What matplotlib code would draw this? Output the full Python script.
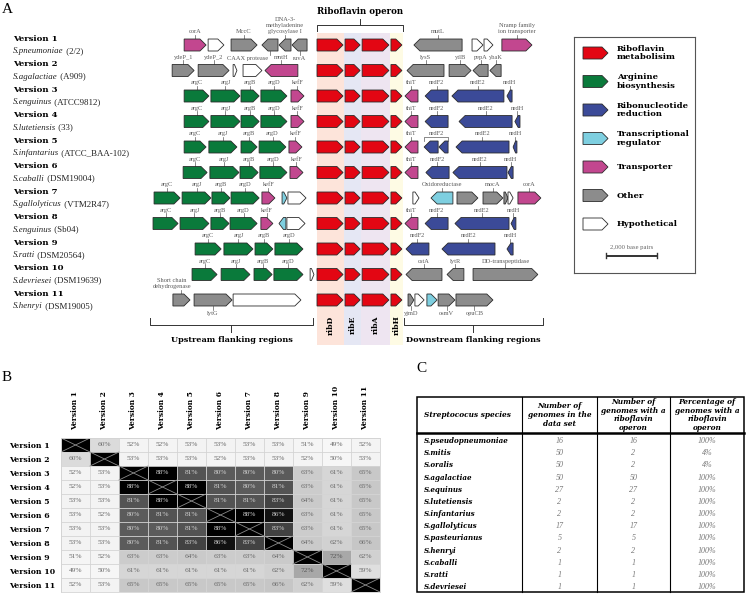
import matplotlib
matplotlib.use("Agg")
import matplotlib.pyplot as plt
import matplotlib.transforms as mtransforms
from matplotlib.patches import Polygon, Rectangle
import numpy as np

SERIF = "Liberation Serif"
BOLD = "DejaVu Serif"
LABEL_GREY = "#5a5a5a"

COLORS = {"rib": "#e30613", "arg": "#0a7a3b", "nrd": "#3b4a98", "reg": "#7ecfe0",
          "tra": "#c2478f", "oth": "#8c8c8c", "hyp": "#ffffff"}

# ---------------- panel A data (positions in kb, 0 = start of ribD) ----------------
VERSIONS = [f"Version {i}" for i in range(1, 12)]
SPECIES = ["S.pneumoniae", "S.agalactiae", "S.enguinus", "S.lutetiensis", "S.infantarius",
           "S.caballi", "S.gallolyticus", "S.enguinus", "S.ratti", "S.devriesei", "S.henryi"]
STRAINS = ["(2/2)", "(A909)", "(ATCC9812)", "(33)", "(ATCC_BAA-102)", "(DSM19004)",
           "(VTM2R47)", "(Sb04)", "(DSM20564)", "(DSM19639)", "(DSM19005)"]

OPERON = [(0.00, 1.02, "ribD"), (1.10, 1.69, "ribE"), (1.77, 2.82, "ribA"), (2.90, 3.33, "ribH")]
BANDS = [(0.00, 1.06, "#fde4da"), (1.06, 1.73, "#e5e7f4"), (1.73, 2.86, "#eee5f1"), (2.86, 3.37, "#fefbe4")]

# (start, end, strand, category, label, label side)
FLANKS = [
    [(-5.21, -4.35, 1, "tra", "corA", "a"), (-4.27, -3.65, 1, "hyp", "", ""),
     (-3.37, -2.35, 1, "oth", "MccC", "a"), (-2.16, -1.53, -1, "oth", "CAAX protease", "b"),
     (-1.49, -1.02, -1, "oth", "DNA-3-\nmethyladenine\nglycosylase I", "a"),
     (-0.98, -0.39, -1, "oth", "ruvA", "b"),
     (3.80, 5.69, -1, "oth", "mutL", "a"), (6.08, 6.51, 1, "hyp", "", ""),
     (6.55, 6.90, 1, "hyp", "", ""), (7.25, 8.43, 1, "tra", "Nramp family\nion transporter", "a")],
    [(-5.68, -4.82, 1, "oth", "ydeP_1", "a"), (-4.66, -3.45, 1, "oth", "ydeP_2", "a"),
     (-3.29, -3.14, 1, "hyp", "", ""), (-2.90, -2.16, 1, "hyp", "", ""),
     (-2.04, -0.75, -1, "tra", "mntH", "a"),
     (3.53, 4.98, -1, "oth", "lysS", "a"), (5.18, 6.04, 1, "oth", "ytlB", "a"),
     (6.12, 6.71, -1, "oth", "pepA", "a"), (6.78, 7.22, -1, "oth", "ybaK", "a")],
    [(-5.21, -4.24, 1, "arg", "argC", "a"), (-4.16, -3.02, 1, "arg", "argJ", "a"),
     (-2.98, -2.27, 1, "arg", "argB", "a"), (-2.20, -1.18, 1, "arg", "argD", "a"),
     (-1.02, -0.51, 1, "tra", "kefF", "a"),
     (3.45, 3.96, -1, "tra", "thiT", "a"), (4.24, 5.14, -1, "nrd", "nrdF2", "a"),
     (5.29, 7.33, -1, "nrd", "nrdE2", "a"), (7.45, 7.65, -1, "nrd", "nrdH", "a")],
    [(-5.21, -4.24, 1, "arg", "argC", "a"), (-4.16, -3.02, 1, "arg", "argJ", "a"),
     (-2.98, -2.27, 1, "arg", "argB", "a"), (-2.20, -1.18, 1, "arg", "argD", "a"),
     (-1.02, -0.51, 1, "tra", "kefF", "a"),
     (3.45, 3.96, -1, "tra", "thiT", "a"), (4.24, 5.14, -1, "nrd", "nrdF2", "a"),
     (5.57, 7.65, -1, "nrd", "nrdE2", "a"), (7.76, 7.96, -1, "nrd", "nrdH", "a")],
    [(-5.21, -4.35, 1, "arg", "argC", "a"), (-4.24, -3.14, 1, "arg", "argJ", "a"),
     (-2.98, -2.35, 1, "arg", "argB", "a"), (-2.27, -1.22, 1, "arg", "argD", "a"),
     (-1.10, -0.59, 1, "tra", "kefF", "a"),
     (3.45, 3.96, -1, "tra", "thiT", "a"), (4.20, 4.75, -1, "nrd", "", ""),
     (4.78, 5.14, -1, "nrd", "", ""),
     (5.45, 7.53, -1, "nrd", "nrdE2", "a"), (7.69, 7.84, -1, "nrd", "nrdH", "a")],
    [(-5.25, -4.31, 1, "arg", "argC", "a"), (-4.20, -3.06, 1, "arg", "argJ", "a"),
     (-3.02, -2.31, 1, "arg", "argB", "a"), (-2.24, -1.18, 1, "arg", "argD", "a"),
     (-1.06, -0.55, 1, "tra", "kefF", "a"),
     (3.45, 3.96, -1, "tra", "thiT", "a"), (4.27, 5.18, -1, "nrd", "nrdF2", "a"),
     (5.33, 7.45, -1, "nrd", "nrdE2", "a"), (7.49, 7.69, -1, "nrd", "nrdH", "a")],
    [(-6.39, -5.37, 1, "arg", "argC", "a"), (-5.29, -4.16, 1, "arg", "argJ", "a"),
     (-4.12, -3.41, 1, "arg", "argB", "a"), (-3.37, -2.27, 1, "arg", "argD", "a"),
     (-2.16, -1.65, 1, "tra", "kefF", "a"), (-1.37, -1.18, 1, "reg", "", ""),
     (-1.14, -0.43, 1, "hyp", "", ""),
     (3.76, 4.00, 1, "hyp", "", ""), (4.47, 5.33, -1, "reg", "Oxidoreductase", "a"),
     (5.49, 6.31, 1, "oth", "", ""), (6.51, 7.29, 1, "oth", "mocA", "a"),
     (7.33, 7.49, 1, "oth", "", ""), (7.49, 7.69, 1, "hyp", "", ""),
     (7.88, 8.78, 1, "tra", "corA", "a")],
    [(-6.43, -5.45, 1, "arg", "argC", "a"), (-5.37, -4.24, 1, "arg", "argJ", "a"),
     (-4.16, -3.45, 1, "arg", "argB", "a"), (-3.41, -2.35, 1, "arg", "argD", "a"),
     (-2.20, -1.73, 1, "tra", "kefF", "a"), (-1.49, -1.22, -1, "reg", "", ""),
     (-1.18, -0.47, 1, "hyp", "", ""),
     (3.45, 3.96, -1, "tra", "thiT", "a"), (4.24, 5.14, -1, "nrd", "nrdF2", "a"),
     (5.41, 7.53, -1, "nrd", "nrdE2", "a"), (7.61, 7.80, -1, "nrd", "nrdH", "a")],
    [(-4.78, -3.76, 1, "arg", "argC", "a"), (-3.65, -2.51, 1, "arg", "argJ", "a"),
     (-2.43, -1.73, 1, "arg", "argB", "a"), (-1.65, -0.55, 1, "arg", "argD", "a"),
     (3.49, 4.39, -1, "nrd", "nrdF2", "a"), (4.90, 6.98, -1, "nrd", "nrdE2", "a"),
     (7.45, 7.69, -1, "nrd", "nrdH", "a")],
    [(-4.90, -3.92, 1, "arg", "argC", "a"), (-3.76, -2.63, 1, "arg", "argJ", "a"),
     (-2.47, -1.76, 1, "arg", "argB", "a"), (-1.69, -0.55, 1, "arg", "argD", "a"),
     (-0.27, -0.12, 1, "hyp", "", ""),
     (3.49, 4.90, -1, "oth", "cstA", "a"), (5.10, 5.76, -1, "oth", "lytR", "a"),
     (6.12, 8.66, 1, "oth", "DD-transpeptidase", "a")],
    [(-5.65, -4.98, 1, "oth", "Short chain\ndehydrogenase", "a"),
     (-4.82, -3.33, 1, "oth", "lytG", "b"), (-3.29, -0.63, 1, "hyp", "", ""),
     (3.57, 3.80, 1, "oth", "yjmD", "b"), (3.84, 4.20, 1, "hyp", "", ""),
     (4.31, 4.71, 1, "reg", "", ""), (4.75, 5.41, 1, "oth", "osmV", "b"),
     (5.45, 6.90, 1, "oth", "opuCB", "b")],
]
LABEL_X = {"CAAX protease": -2.72, "Short chain\ndehydrogenase": -5.70}
SPANS = [(4, 4.20, 5.14, "nrdF2")]
UPSTREAM = (-6.55, -0.16)
DOWNSTREAM = (3.41, 8.86)
SCALE_KB = 2.0

LEGEND = [("rib", "Riboflavin\nmetabolisim"), ("arg", "Arginine\nbiosynthesis"),
          ("nrd", "Ribonucleotide\nreduction"), ("reg", "Transcriptional\nregulator"),
          ("tra", "Transporter"), ("oth", "Other"), ("hyp", "Hypothetical")]

# ---------------- panel B data ----------------
X = np.nan
IDENTITY = [
    [X, 60, 52, 52, 53, 53, 53, 53, 51, 49, 52],
    [60, X, 53, 53, 53, 52, 53, 53, 52, 50, 53],
    [52, 53, X, 88, 81, 80, 80, 80, 63, 61, 65],
    [52, 53, 88, X, 88, 81, 80, 81, 63, 61, 65],
    [53, 53, 81, 88, X, 81, 81, 83, 64, 61, 65],
    [53, 52, 80, 81, 81, X, 88, 86, 63, 61, 65],
    [53, 53, 80, 80, 81, 88, X, 83, 63, 61, 65],
    [53, 53, 80, 81, 83, 86, 83, X, 64, 62, 66],
    [51, 52, 63, 63, 64, 63, 63, 64, X, 72, 62],
    [49, 50, 61, 61, 61, 61, 61, 62, 72, X, 59],
    [52, 53, 65, 65, 65, 65, 65, 66, 62, 59, X],
]
GRAY_AT = [49, 55, 60, 63, 66, 72, 80, 83, 86, 88]
GRAY_LEVEL = [0.97, 0.95, 0.86, 0.80, 0.78, 0.66, 0.36, 0.26, 0.07, 0.0]

# ---------------- panel C data ----------------
TABLE_HEADER = ["Streptococus species", "Number of\ngenomes in the\ndata set",
                "Number of\ngenomes with a\nriboflavin\noperon",
                "Percentage of\ngenomes with a\nriboflavin\noperon"]
TABLE_SPECIES = ["S.pseudopneumoniae", "S.mitis", "S.oralis", "S.agalactiae", "S.equinus",
                 "S.lutetiensis", "S.infantarius", "S.gallolyticus", "S.pasteurianus",
                 "S.henryi", "S.caballi", "S.ratti", "S.devriesei"]
N_GENOMES = [16, 50, 50, 50, 27, 2, 2, 17, 5, 2, 1, 1, 1]
N_OPERON = [16, 2, 2, 50, 27, 2, 2, 17, 5, 2, 1, 1, 1]
PCT_OPERON = ["100%", "4%", "4%", "100%", "100%", "100%", "100%", "100%", "100%",
              "100%", "100%", "100%", "100%"]
TABLE_COLS = [0.0, 0.321, 0.550, 0.774, 1.0]

W, H = 749, 595
fig = plt.figure(figsize=(W / 100, H / 100), dpi=100)

fig.text(2 / W, 1 - 3 / H, "A", family=SERIF, fontsize=11, va="top")
fig.text(2 / W, 1 - 371 / H, "B", family=SERIF, fontsize=11, va="top")
fig.text(416 / W, 1 - 362 / H, "C", family=SERIF, fontsize=11, va="top")

# ---------------- panel A ----------------
PX_PER_KB = 25.5
ax = fig.add_axes([0, 1 - 345 / H, 1, 345 / H])
ax.set_xlim(-317 / PX_PER_KB, (W - 317) / PX_PER_KB)
ax.set_ylim(11.765, -1.765)
ax.axis("off")
HALF = 0.235


def draw_gene(ax, start, end, strand, y, color, zorder=3):
    head = min(0.24, (end - start) * 0.65)
    if strand > 0:
        pts = [(start, y - HALF), (end - head, y - HALF), (end, y), (end - head, y + HALF), (start, y + HALF)]
    else:
        pts = [(end, y - HALF), (start + head, y - HALF), (start, y), (start + head, y + HALF), (end, y + HALF)]
    ax.add_patch(Polygon(pts, closed=True, facecolor=color, edgecolor="#2b2b2b",
                         lw=0.6, joinstyle="miter", zorder=zorder))


def draw_label(ax, xg, xt, y, text, side):
    tick = 0.16
    if side == "a":
        ax.plot([xg, xg], [y - HALF, y - HALF - tick], color=LABEL_GREY, lw=0.5, zorder=2)
        ax.text(xt, y - HALF - tick - 0.02, text, ha="center", va="bottom", family=SERIF,
                fontsize=4.6, color=LABEL_GREY, linespacing=1.25)
    else:
        ax.plot([xg, xg], [y + HALF, y + HALF + tick], color=LABEL_GREY, lw=0.5, zorder=2)
        ax.text(xt, y + HALF + tick + 0.02, text, ha="center", va="top", family=SERIF,
                fontsize=4.6, color=LABEL_GREY)


band_top, band_bot = -0.47, 11.765
for x0, x1, c in BANDS:
    ax.add_patch(Rectangle((x0, band_top), x1 - x0, band_bot - band_top, facecolor=c,
                           edgecolor="none", zorder=0))
for (x0, x1, c), (_, _, name) in zip(BANDS, OPERON):
    ax.text((x0 + x1) / 2, 10.98, name, rotation=90, ha="center", va="center",
            family=BOLD, fontweight="bold", fontsize=5.6)

ax.plot([0, 0, BANDS[-1][1], BANDS[-1][1]], [-0.55, -0.78, -0.78, -0.55], color="#333", lw=0.7)
mid = BANDS[-1][1] / 2
ax.plot([mid, mid], [-0.78, -1.02], color="#333", lw=0.7)
ax.text(mid, -1.32, "Riboflavin operon", ha="center", va="center", family=BOLD,
        fontweight="bold", fontsize=6.2)

trans_lab = mtransforms.blended_transform_factory(fig.transFigure, ax.transData)
for r in range(11):
    ax.text(13 / W, r - 0.24, VERSIONS[r], transform=trans_lab, family=BOLD,
            fontweight="bold", fontsize=6.1, va="center", ha="left")
    t = ax.text(13 / W, r + 0.24, SPECIES[r], transform=trans_lab, family=SERIF,
                style="italic", fontsize=6.4, va="center", ha="left", color="#222")
    ax.annotate(" " + STRAINS[r], xy=(1, 0.5), xycoords=t, va="center", ha="left",
                family=SERIF, fontsize=6.4, color="#222")
    for x0, x1, _ in OPERON:
        draw_gene(ax, x0, x1, 1, r, COLORS["rib"])
    for start, end, strand, cat, label, side in FLANKS[r]:
        draw_gene(ax, start, end, strand, r, COLORS[cat])
        if label:
            xg = (start + end) / 2
            draw_label(ax, xg, LABEL_X.get(label, xg), r, label, side)

for r, x0, x1, label in SPANS:
    yb = r - HALF - 0.16
    ax.plot([x0, x0, x1, x1], [r - HALF, yb, yb, r - HALF], color=LABEL_GREY, lw=0.5)
    ax.text((x0 + x1) / 2, yb - 0.02, label, ha="center", va="bottom", family=SERIF,
            fontsize=4.6, color=LABEL_GREY)

for (x0, x1), name in [(UPSTREAM, "Upstream flanking regions"),
                       (DOWNSTREAM, "Downstream flanking regions")]:
    m = (x0 + x1) / 2
    ax.plot([x0, x0, x1, x1], [10.70, 10.98, 10.98, 10.70], color="#333", lw=0.7)
    ax.plot([m, m], [10.98, 11.25], color="#333", lw=0.7)
    ax.text(m, 11.58, name, ha="center", va="center", family=BOLD, fontweight="bold",
            fontsize=5.9)

# scale bar (2,000 bp) on the same kb scale as the genes
sb0 = 11.33
ax.plot([sb0, sb0 + SCALE_KB], [8.27, 8.27], color="#333", lw=1.4, solid_capstyle="butt")
ax.plot([sb0, sb0], [8.17, 8.37], color="#333", lw=1.0)
ax.plot([sb0 + SCALE_KB, sb0 + SCALE_KB], [8.17, 8.37], color="#333", lw=1.0)
ax.text(sb0 + SCALE_KB / 2, 8.02, "2,000 base pairs", ha="center", va="bottom",
        family=SERIF, fontsize=4.8, color="#666")

# legend box
axl = fig.add_axes([574 / W, 1 - 273 / H, 121 / W, 236 / H])
axl.set_xlim(0, 121)
axl.set_ylim(236, 0)
axl.set_xticks([])
axl.set_yticks([])
axl.patch.set_alpha(0)
for s in axl.spines.values():
    s.set_color("#555")
    s.set_linewidth(0.8)
for k, (cat, text) in enumerate(LEGEND):
    y = 16 + 28.5 * k
    pts = [(9, y - 6), (28, y - 6), (34, y), (28, y + 6), (9, y + 6)]
    axl.add_patch(Polygon(pts, closed=True, facecolor=COLORS[cat], edgecolor="#2b2b2b", lw=0.6))
    axl.text(43, y, text, va="center", ha="left", family=BOLD, fontweight="bold",
             fontsize=6.0, linespacing=1.15)

# ---------------- panel B ----------------
axb = fig.add_axes([61 / W, 3 / H, 319 / W, 154 / H])
vals = np.array(IDENTITY, dtype=float)
diag = np.isnan(vals)
gray = np.interp(np.where(diag, 88, vals), GRAY_AT, GRAY_LEVEL)
rgb = np.dstack([gray, gray, gray])
n = len(VERSIONS)
axb.imshow(rgb, extent=(-0.5, n - 0.5, n - 0.5, -0.5), aspect="auto", interpolation="nearest")
for k in range(n + 1):
    axb.axhline(k - 0.5, color="#d4d4d4", lw=0.6)
    axb.axvline(k - 0.5, color="#d4d4d4", lw=0.6)
for i in range(n):
    for j in range(n):
        if diag[i, j]:
            axb.plot([j - 0.5, j + 0.5], [i - 0.5, i + 0.5], color="#8a8a8a", lw=0.6)
            axb.plot([j - 0.5, j + 0.5], [i + 0.5, i - 0.5], color="#8a8a8a", lw=0.6)
        else:
            v = vals[i, j]
            col = "#cfcfcf" if v >= 80 else ("#555555" if v >= 70 else "#6a6a6a")
            axb.text(j, i, f"{v:.0f}%", ha="center", va="center", family=SERIF,
                     fontsize=5.3, color=col)
axb.set_xlim(-0.5, n - 0.5)
axb.set_ylim(n - 0.5, -0.5)
axb.xaxis.tick_top()
axb.set_xticks(range(n))
axb.set_xticklabels(VERSIONS, rotation=90, family=BOLD, fontweight="bold", fontsize=5.4)
axb.set_yticks(range(n))
axb.set_yticklabels(VERSIONS, ha="left", family=BOLD, fontweight="bold", fontsize=5.6)
axb.tick_params(axis="x", length=0, pad=6)
axb.tick_params(axis="y", length=0, pad=37.4)
for s in axb.spines.values():
    s.set_color("#d4d4d4")
    s.set_linewidth(0.6)

# ---------------- panel C ----------------
axc = fig.add_axes([417 / W, 3 / H, 327 / W, 195 / H])
top, bot, head_bot = -3.62, 12.4, -0.66
axc.set_xlim(0, 1)
axc.set_ylim(bot, top)
axc.axis("off")
axc.add_patch(Rectangle((0, top), 1, bot - top, facecolor="none", edgecolor="black",
                        lw=1.1, clip_on=False))
for xc in TABLE_COLS[1:-1]:
    axc.plot([xc, xc], [top, bot], color="black", lw=0.8, clip_on=False)
axc.plot([0, 1], [head_bot, head_bot], color="black", lw=1.8, clip_on=False)
hy = (top + head_bot) / 2
axc.text(0.021, hy, TABLE_HEADER[0], ha="left", va="center", family=BOLD,
         fontweight="bold", style="italic", fontsize=5.3)
for k in range(1, 4):
    cx = (TABLE_COLS[k] + TABLE_COLS[k + 1]) / 2
    axc.text(cx, hy, TABLE_HEADER[k], ha="center", va="center", family=BOLD,
             fontweight="bold", style="italic", fontsize=5.3, linespacing=1.15)
for i, sp in enumerate(TABLE_SPECIES):
    axc.text(0.021, i, sp, ha="left", va="center", family=BOLD, fontweight="bold",
             style="italic", fontsize=5.1)
    for k, v in zip(range(1, 4), [N_GENOMES[i], N_OPERON[i], PCT_OPERON[i]]):
        cx = (TABLE_COLS[k] + TABLE_COLS[k + 1]) / 2
        axc.text(cx, i, str(v), ha="center", va="center", family=SERIF, style="italic",
                 fontsize=5.8, color="#777")

fig.savefig("out.png", dpi=100)
